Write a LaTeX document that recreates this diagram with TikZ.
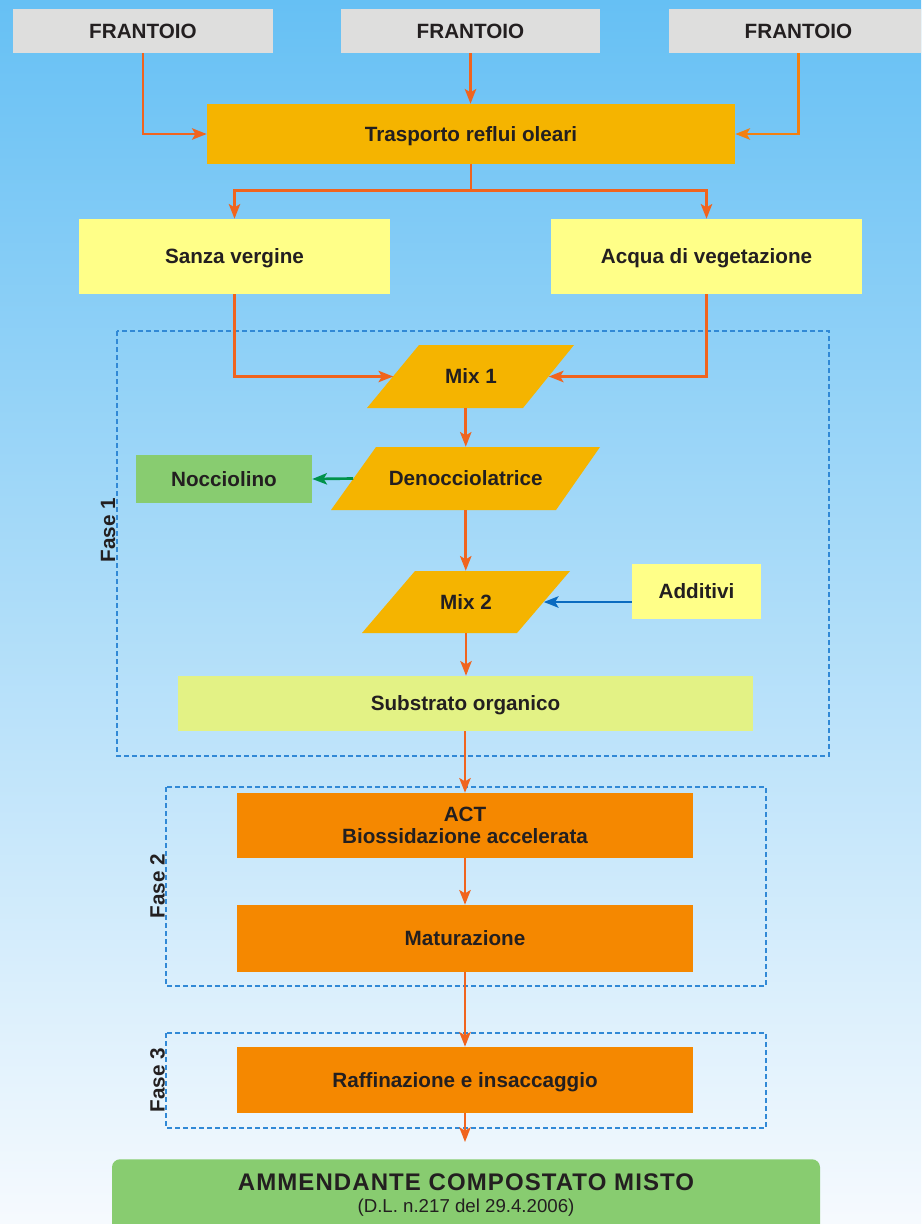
\documentclass[tikz,border=0pt]{standalone}
\usepackage{fontspec}
\setmainfont{Liberation Sans}
\usetikzlibrary{arrows.meta}
\definecolor{bgtop}{HTML}{66C0F4}
\definecolor{bgbot}{HTML}{F6FAFE}
\definecolor{greybox}{HTML}{DEDEDD}
\definecolor{amber}{HTML}{F5B400}
\definecolor{paleyellow}{HTML}{FFFF88}
\definecolor{limeyellow}{HTML}{E3F285}
\definecolor{deeporange}{HTML}{F58800}
\definecolor{leafgreen}{HTML}{88CC70}
\definecolor{flowred}{HTML}{F0641E}
\definecolor{floworange}{HTML}{F28010}
\definecolor{flowgreen}{HTML}{00924A}
\definecolor{flowblue}{HTML}{0A6BC0}
\definecolor{dashblue}{HTML}{3189D6}
\definecolor{inkdark}{HTML}{231F20}

\begin{document}
\begin{tikzpicture}[x=0.75pt,y=-0.75pt,
    dims/.style 2 args={minimum width=#1*0.75pt, minimum height=#2*0.75pt},
    box/.style={rectangle, inner sep=0pt, text=inkdark, align=center,
      text height=11.1pt, text depth=0pt,
      font=\fontsize{15.5}{16.5}\selectfont\bfseries},
    flow/.style={draw=flowred, line width=2pt,
      -{Stealth[length=11pt,width=8.5pt,inset=2.5pt]}},
    fasebox/.style={draw=dashblue, line width=0.8pt, dash pattern=on 3.5pt off 2.5pt},
    faselabel/.style={inner sep=0pt, text=inkdark, text height=11.1pt, text depth=0pt,
      font=\fontsize{15.5}{16.5}\selectfont\bfseries, rotate=90, anchor=south}]
  \useasboundingbox (0,0) rectangle (921,1224);
  \clip (0,0) rectangle (921,1224);
  \shade[top color=bgtop, bottom color=bgbot] (0,0) rectangle (921,1224);

  % fasi
  \draw[fasebox] (117,331) rectangle (829,756);
  \draw[fasebox] (166,787) rectangle (766,986);
  \draw[fasebox] (166,1033) rectangle (766,1128);
  \node[faselabel] (fase1) at (115.5,530) {Fase 1};
  \node[faselabel] (fase2) at (165,886) {Fase 2};
  \node[faselabel] (fase3) at (165,1080) {Fase 3};

  \node[box, fill=greybox, dims={260}{44}] (frant1) at (143,31) {FRANTOIO};
  \node[box, fill=greybox, dims={259}{44}] (frant2) at (470.5,31) {FRANTOIO};
  \node[box, fill=greybox, dims={259}{44}] (frant3) at (798.5,31) {FRANTOIO};
  \node[box, fill=amber, dims={528}{60}] (trasp) at (471,134) {Trasporto reflui oleari};
  \node[box, fill=paleyellow, dims={311}{75}] (sanza) at (234.5,256.5) {Sanza vergine};
  \node[box, fill=paleyellow, dims={311}{75}] (acqua) at (706.5,256.5) {Acqua di vegetazione};

  \fill[amber] (367,408) -- (419,345) -- (574,345) -- (523,408) -- cycle;
  \node[box, dims={155}{63}] (mix1) at (471,376.5) {Mix 1};
  \fill[amber] (331,510) -- (376,447) -- (600,447) -- (556,510) -- cycle;
  \node[box, dims={224.5}{63}] (deno) at (465.75,478.5) {Denocciolatrice};
  \node[box, fill=leafgreen, dims={176}{48}] (nocc) at (224,479) {Nocciolino};
  \fill[amber] (362,633) -- (415,571) -- (570,571) -- (517,633) -- cycle;
  \node[box, dims={155}{62}] (mix2) at (466,602) {Mix 2};
  \node[box, fill=paleyellow, dims={129}{55}] (addit) at (696.5,591.5) {Additivi};
  \node[box, fill=limeyellow, dims={575}{55}] (subst) at (465.5,703.5) {Substrato organico};

  \node[box, fill=deeporange, dims={456}{65}, text height=27.6pt] (act) at (465,825.5)
    {ACT\\Biossidazione accelerata};
  \node[box, fill=deeporange, dims={456}{67}] (matur) at (465,938.5) {Maturazione};
  \node[box, fill=deeporange, dims={456}{66}] (raffin) at (465,1080) {Raffinazione e insaccaggio};
  \coordinate (uscita) at (465,1142);

  \node[box, fill=leafgreen, rounded corners=6pt, minimum width=708*0.75pt,
    anchor=north, inner ysep=12pt, text height=27.75pt, text depth=20pt] (ammend) at (466,1159)
    {\fontsize{18}{20}\selectfont\addfontfeature{LetterSpace=4.5}AMMENDANTE COMPOSTATO MISTO\\[0pt]
     \fontsize{14}{16}\selectfont\mdseries (D.L. n.217 del 29.4.2006)};

  \draw[flow] (frant1.south) |- (trasp.west);
  \draw[flow] (frant2.south) -- (frant2.south |- trasp.north);
  \draw[flow, draw=floworange] (frant3.south) |- (trasp.east);
  \draw[flow] (trasp.south) -- ++(0,26) -| (sanza.north);
  \draw[flow] (trasp.south) -- ++(0,26) -| (acqua.north);
  \draw[flow] (sanza.south) |- (mix1.west);
  \draw[flow] (acqua.south) |- (mix1.east);
  \draw[flow] (mix1.south -| deno.north) -- (deno.north);
  \draw[flow, draw=flowgreen] (deno.west) -- (nocc.east);
  \draw[flow] (deno.south) -- (deno.south |- mix2.north);
  \draw[flow, draw=flowblue] (mix2.east -| addit.west) -- (mix2.east);
  \draw[flow] (mix2.south) -- (mix2.south |- subst.north);
  \draw[flow] (subst.south -| act.north) -- (act.north);
  \draw[flow] (act.south) -- (matur.north);
  \draw[flow] (matur.south) -- (raffin.north);
  \draw[flow] (raffin.south) -- (uscita);
\end{tikzpicture}
\end{document}
